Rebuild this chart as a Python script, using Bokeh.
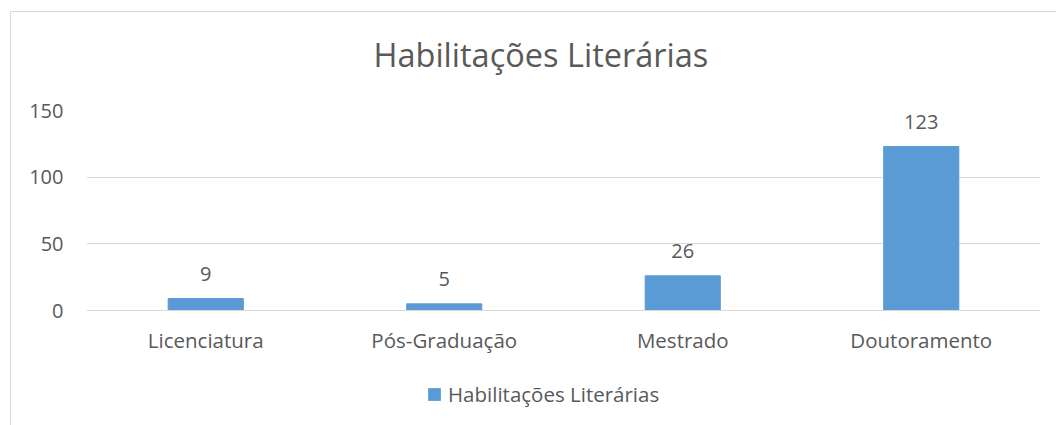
from bokeh.plotting import figure
from bokeh.layouts import column
from bokeh.models import ColumnDataSource, Range1d, FactorRange, Legend, LegendItem, FixedTicker, Label
from bokeh.core.properties import value
from bokeh.embed import file_html
from bokeh.resources import INLINE

categories = ["Licenciatura", "Pós-Graduação", "Mestrado", "Doutoramento"]
counts = [9, 5, 26, 123]
y_ticks = [0, 50, 100, 150]
title_text = "Habilitações Literárias"
series_name = "Habilitações Literárias"

FONT = "Open Sans"
TXT = "#595959"
GRID = "#D9D9D9"
BAR = "#5B9BD5"
W = 1045


def strip(h, x_range=None):
    f = figure(width=W, height=h, x_range=x_range or Range1d(0, 1), y_range=Range1d(0, 1),
               output_backend="svg", toolbar_location=None,
               min_border_left=0, min_border_right=0, min_border_top=0, min_border_bottom=0)
    f.axis.visible = False
    f.grid.grid_line_color = None
    f.outline_line_color = None
    return f


# title strip
p0 = strip(78)
p0.add_layout(Label(x=287, y=36, x_units="screen", y_units="screen", text=title_text,
                    text_font=FONT, text_font_size="32.5px", text_color=TXT,
                    text_align="left", text_baseline="alphabetic"))

src = ColumnDataSource(dict(cat=categories, val=counts, lab=[str(v) for v in counts]))

p = figure(width=W, height=275, x_range=FactorRange(*categories), y_range=Range1d(0, 150),
           output_backend="svg", toolbar_location=None,
           min_border_left=75, min_border_right=16, min_border_top=20, min_border_bottom=55)
p.outline_line_color = None

r = p.vbar(x="cat", top="val", width=0.315, source=src, color=BAR)
p.text(x="cat", y="val", text="lab", source=src, text_font=value(FONT), text_font_size="20px",
       text_color=TXT, text_align="center", text_baseline="middle", y_offset=-25)

p.yaxis.ticker = FixedTicker(ticks=y_ticks)
p.yaxis.axis_line_color = None
p.yaxis.major_tick_line_color = None
p.yaxis.minor_tick_line_color = None
p.yaxis.major_label_text_font = FONT
p.yaxis.major_label_text_font_size = "20px"
p.yaxis.major_label_text_color = TXT
p.yaxis.major_label_standoff = 17

p.xaxis.axis_line_color = GRID
p.xaxis.major_tick_line_color = None
p.xaxis.minor_tick_line_color = None
p.xaxis.major_label_text_font = FONT
p.xaxis.major_label_text_font_size = "20.5px"
p.xaxis.major_label_text_color = TXT
p.xaxis.major_label_standoff = 9

p.xgrid.grid_line_color = None
p.ygrid.grid_line_color = GRID

# legend strip (helper renderer is zero-sized, only its legend swatch shows)
p2 = strip(60, x_range=FactorRange(*categories))
r2 = p2.vbar(x=categories, top=counts, bottom=counts, width=0, fill_color=BAR,
             line_alpha=0, line_width=0)
legend = Legend(items=[LegendItem(label=series_name, renderers=[r2])], location=(340, 17),
                orientation="horizontal", border_line_color=None, background_fill_alpha=0,
                padding=0, margin=0, glyph_width=16, glyph_height=16, label_standoff=6,
                label_text_font=FONT, label_text_font_size="20.5px", label_text_color=TXT,
                label_height=20)
p2.add_layout(legend, "center")

layout = column(p0, p, p2, spacing=0)
layout.styles = {"margin-left": "10px", "margin-top": "11px",
                 "border-left": f"1px solid {GRID}", "border-top": f"1px solid {GRID}"}

open("out.html", "w").write(file_html(layout, INLINE))
